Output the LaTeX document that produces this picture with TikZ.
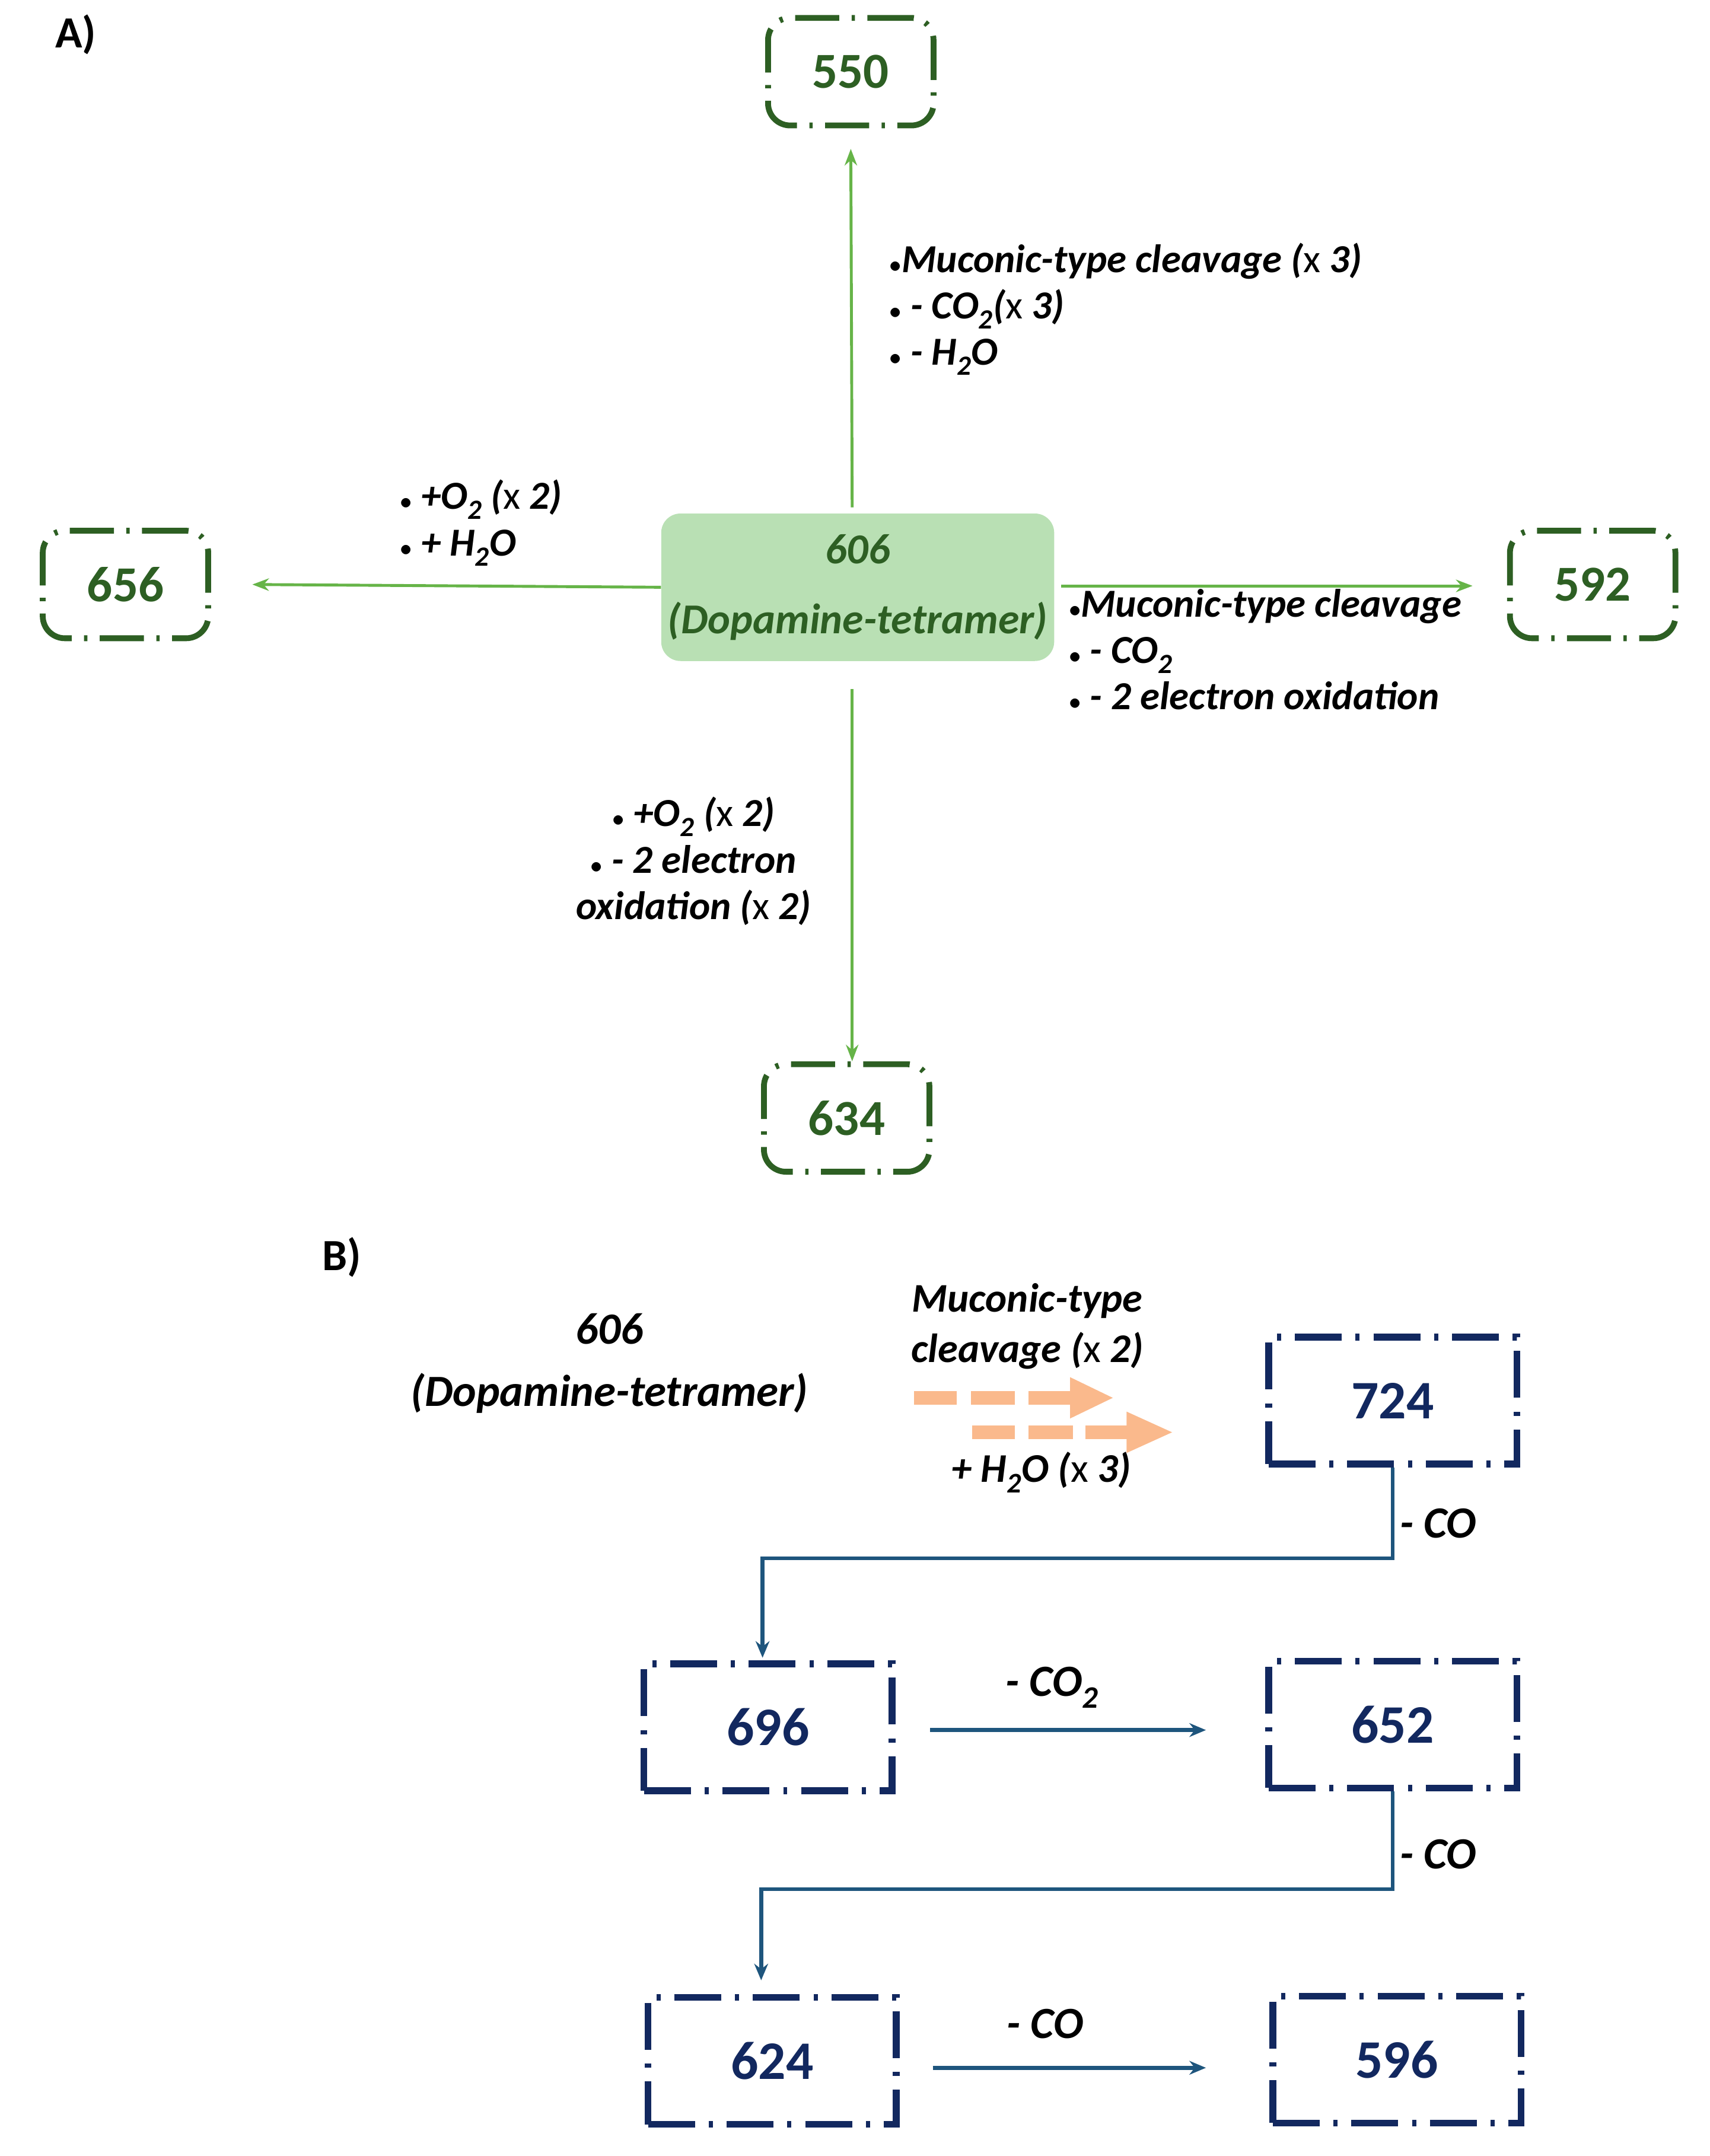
\documentclass[tikz,border=0pt]{standalone}
\usepackage{fontspec}
\setmainfont{Carlito}
\usetikzlibrary{arrows.meta,calc}
\definecolor{dg}{RGB}{45,95,35}
\definecolor{lg}{RGB}{102,180,72}
\definecolor{fillg}{RGB}{185,224,180}
\definecolor{navy}{RGB}{18,40,95}
\definecolor{teal}{RGB}{30,85,125}
\definecolor{orng}{RGB}{250,185,140}
\newcommand{\tx}{{\upshape\mdseries x}}
\newcommand{\sub}[1]{\textsubscript{#1}}
\begin{document}
\begin{tikzpicture}[x=0.05cm,y=-0.05cm,
  lab/.style={font=\fontsize{41}{48}\selectfont\bfseries\itshape,inner sep=0pt},
  labb/.style={font=\fontsize{46}{52}\selectfont\bfseries\itshape,inner sep=0pt},
  gbox/.style={draw=dg,line width=6pt,rounded corners=0.8cm,minimum width=6cm,minimum height=3.9cm,
    dash pattern=on 1.6cm off 0.45cm on 0.12cm off 0.45cm,text=dg,font=\fontsize{52}{60}\selectfont\bfseries},
  nbox/.style={draw=navy,line width=7pt,minimum width=9cm,minimum height=4.6cm,
    dash pattern=on 1.7cm off 0.5cm on 0.15cm off 0.5cm,text=navy,font=\fontsize{56}{60}\selectfont\bfseries},
  garr/.style={draw=lg,line width=3pt,-{Stealth[length=0.6cm,width=0.45cm]}},
  barr/.style={draw=teal,line width=4pt,-{Stealth[length=0.6cm,width=0.5cm]}}]
\useasboundingbox (0,0) rectangle (1240,1564);
% Part A
\node[font=\fontsize{46}{50}\selectfont\bfseries] (A) at (55,25) {A)};
\node[gbox] (n550) at (617,52) {550};
\node[gbox] (n656) at (91,424) {656};
\node[gbox] (n592) at (1155,424) {592};
\node[gbox] (n634) at (614,811) {634};
\node[fill=fillg,rounded corners=0.7cm,minimum width=14.25cm,minimum height=5.35cm,align=center,
  text=dg,font=\fontsize{44}{72}\selectfont\bfseries\itshape] (c) at (622,426) {606\\(Dopamine-tetramer)};
\draw[garr] (618,368) -- (n550.south |- 0,108);
\draw[garr] (c.west) -- (n656.east -| 183,0);
\draw[garr] ($(c.east |- 0,425)+(5,0)$) -- ($(n592.west |- 0,425)+(-25,0)$);
\draw[garr] (618,500) -- (n634.north -| 618,0);
\node[lab,anchor=north west,align=left] (t1) at (645,176) {$\bullet$Muconic-type cleavage (\tx{} 3)\\$\bullet$ - CO\sub{2}(\tx{} 3)\\$\bullet$ - H\sub{2}O};
\node[lab,anchor=north west,align=left] (t2) at (290,348) {$\bullet$ +O\sub{2} (\tx{} 2)\\$\bullet$ + H\sub{2}O};
\node[lab,anchor=north west,align=left] (t3) at (775,427) {$\bullet$Muconic-type cleavage\\$\bullet$ - CO\sub{2}\\$\bullet$ - 2 electron oxidation};
\node[lab,anchor=north,align=center] (t4) at (503,578) {$\bullet$ +O\sub{2} (\tx{} 2)\\$\bullet$ - 2 electron\\oxidation (\tx{} 2)};
% Part B
\node[font=\fontsize{46}{50}\selectfont\bfseries] (B) at (248,912) {B)};
\node[lab,font=\fontsize{46}{64}\selectfont\bfseries\itshape,align=center] (d) at (442,989) {606\\(Dopamine-tetramer)};
\node[lab,font=\fontsize{42}{52}\selectfont\bfseries\itshape,align=center] (m) at (745,962) {Muconic-type\\cleavage (\tx{} 2)};
\node[lab,font=\fontsize{42}{52}\selectfont\bfseries\itshape] (w) at (755,1068) {+ H\sub{2}O (\tx{} 3)};
\fill[orng] (663,1009) rectangle (694,1019);
\fill[orng] (704,1009) rectangle (736,1019);
\fill[orng] (746,1009) rectangle (778,1019);
\fill[orng] (776,999) -- (807,1014) -- (776,1029) -- cycle;
\fill[orng] (705,1034) rectangle (736,1044);
\fill[orng] (746,1034) rectangle (778,1044);
\fill[orng] (787,1034) rectangle (819,1044);
\fill[orng] (817,1024) -- (850,1039) -- (817,1054) -- cycle;
\node[nbox] (b724) at (1010,1016) {724};
\node[nbox] (b696) at (557,1253) {696};
\node[nbox] (b652) at (1010,1251) {652};
\node[nbox] (b624) at (560,1495) {624};
\node[nbox] (b596) at (1013,1494) {596};
\draw[barr] (b724.south) -- ++(0,66) -| ($(b696.north)+(-4,-2)$);
\draw[barr] (b652.south) -- ++(0,71) -| ($(b624.north)+(-8,-10)$);
\draw[barr] ($(b696.east)+(25,2)$) -- ($(b652.west)+(-43,4)$);
\draw[barr] ($(b624.east)+(24,5)$) -- ($(b596.west)+(-46,6)$);
\node[labb] (l1) at (1043,1105) {- CO};
\node[labb] (l2) at (1043,1345) {- CO};
\node[labb] (l3) at (763,1224) {- CO\sub{2}};
\node[labb] (l4) at (758,1468) {- CO};
\end{tikzpicture}
\end{document}
